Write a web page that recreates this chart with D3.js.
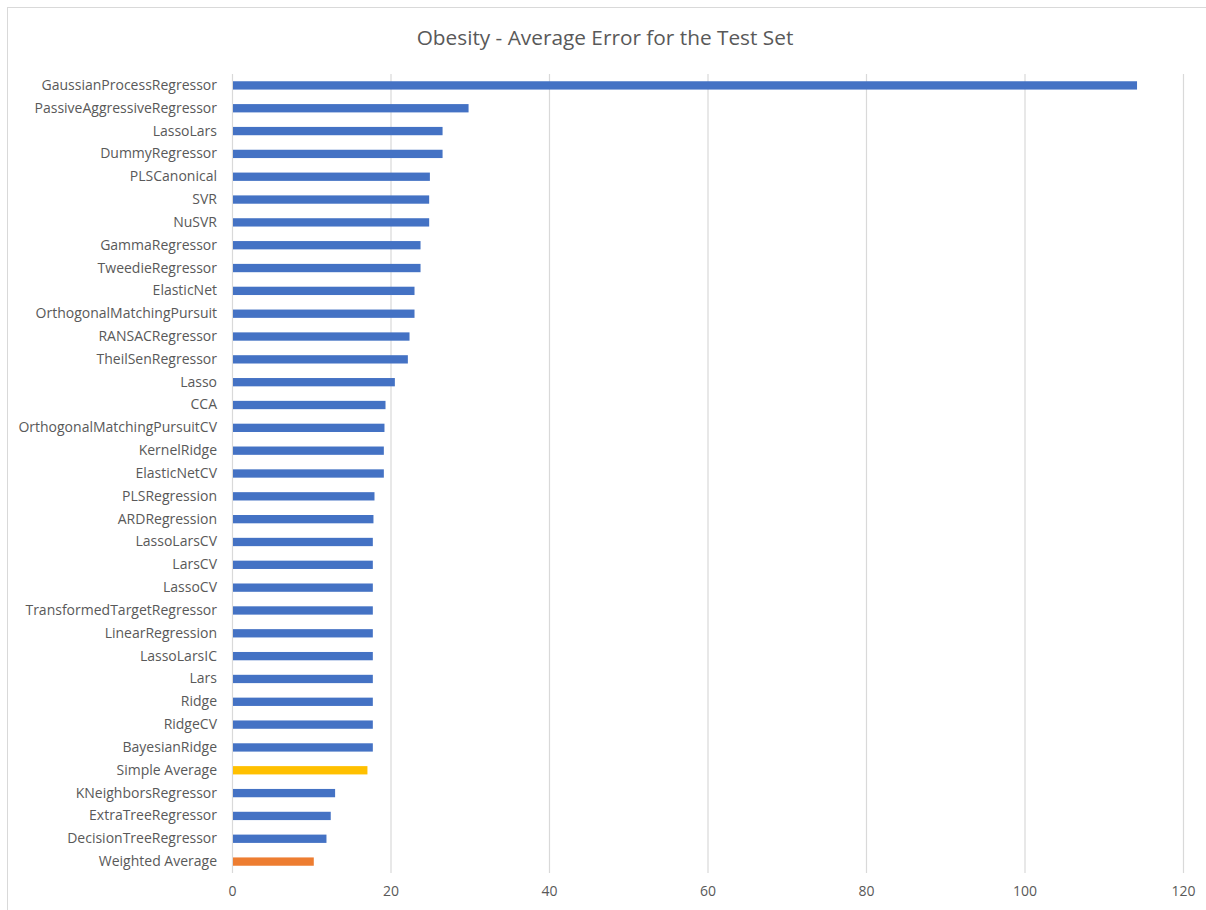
<!DOCTYPE html>
<html>
<head>
<meta charset="utf-8">
<script src="https://cdn.jsdelivr.net/npm/d3@7"></script>
<style>
  html, body { margin: 0; padding: 0; background: #fff; }
  svg { display: block; }
</style>
</head>
<body>
<svg id="chart" width="1206" height="910"></svg>
<script>
const title = "Obesity - Average Error for the Test Set";
const categories = [
  "GaussianProcessRegressor", "PassiveAggressiveRegressor", "LassoLars", "DummyRegressor",
  "PLSCanonical", "SVR", "NuSVR", "GammaRegressor", "TweedieRegressor", "ElasticNet",
  "OrthogonalMatchingPursuit", "RANSACRegressor", "TheilSenRegressor", "Lasso", "CCA",
  "OrthogonalMatchingPursuitCV", "KernelRidge", "ElasticNetCV", "PLSRegression", "ARDRegression",
  "LassoLarsCV", "LarsCV", "LassoCV", "TransformedTargetRegressor", "LinearRegression",
  "LassoLarsIC", "Lars", "Ridge", "RidgeCV", "BayesianRidge", "Simple Average",
  "KNeighborsRegressor", "ExtraTreeRegressor", "DecisionTreeRegressor", "Weighted Average"
];
const values = [
  114.2, 29.85, 26.57, 26.57,
  24.97, 24.88, 24.88, 23.79, 23.79, 23.03,
  23.03, 22.40, 22.19, 20.55, 19.37,
  19.24, 19.16, 19.16, 17.98, 17.85,
  17.77, 17.77, 17.77, 17.77, 17.77,
  17.77, 17.77, 17.77, 17.77, 17.77, 17.09,
  13.01, 12.46, 11.92, 10.32
];
const highlight = { "Simple Average": "#FFC000", "Weighted Average": "#ED7D31" };
const xTicks = [0, 20, 40, 60, 80, 100, 120];

const svg = d3.select("#chart");
const font = "'Open Sans', 'Noto Sans', sans-serif";
const textColor = "#595959";

// chart border
svg.append("rect")
  .attr("x", 7.5).attr("y", 7.5)
  .attr("width", 1220).attr("height", 920)
  .attr("fill", "#fff").attr("stroke", "#d9d9d9").attr("stroke-width", 1);

const mLeft = 232, mRight = 1183, mTop = 74, mBottom = 873;

const x = d3.scaleLinear().domain([0, 120]).range([mLeft, mRight]);
const y = d3.scaleBand().domain(categories).range([mTop, mBottom]).paddingInner(0.636).paddingOuter(0.318);

// title
svg.append("text")
  .attr("x", 605).attr("y", 45)
  .attr("text-anchor", "middle")
  .attr("font-family", font).attr("font-size", 20.8)
  .attr("fill", textColor)
  .text(title);

// gridlines
svg.append("g").selectAll("line")
  .data(xTicks)
  .join("line")
  .attr("x1", d => x(d) + 0.5).attr("x2", d => x(d) + 0.5)
  .attr("y1", mTop).attr("y2", mBottom)
  .attr("stroke", "#d9d9d9").attr("stroke-width", 1.2);

// x axis tick labels
const xAxis = d3.axisBottom(x).tickValues(xTicks).tickSize(0).tickPadding(0);
const gx = svg.append("g").attr("transform", `translate(0, ${mBottom + 13})`).call(xAxis);
gx.select(".domain").remove();
gx.selectAll("text")
  .attr("font-family", font).attr("font-size", 14)
  .attr("fill", textColor).attr("dy", "0.71em");

// y axis labels
const yAxis = d3.axisLeft(y).tickSize(0).tickPadding(15);
const gy = svg.append("g").attr("transform", `translate(${mLeft}, 0)`).call(yAxis);
gy.select(".domain").remove();
gy.selectAll("text")
  .attr("font-family", font).attr("font-size", 14)
  .attr("fill", textColor);

// bars
svg.append("g").selectAll("rect")
  .data(categories.map((c, i) => ({ c, v: values[i] })))
  .join("rect")
  .attr("x", x(0) + 1)
  .attr("y", d => y(d.c))
  .attr("width", d => x(d.v) - x(0) - 1)
  .attr("height", y.bandwidth())
  .attr("fill", d => highlight[d.c] || "#4472C4");
</script>
</body>
</html>
